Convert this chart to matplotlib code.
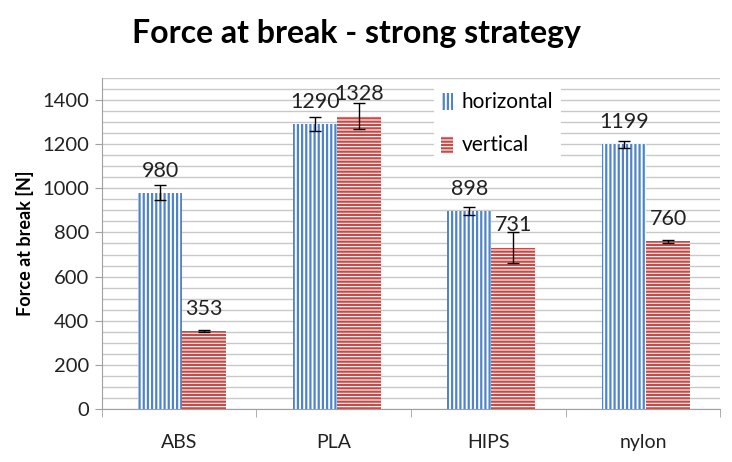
import matplotlib.pyplot as plt
from matplotlib.ticker import MultipleLocator, FixedLocator
import numpy as np

plt.rcParams['font.family'] = ['Lato', 'DejaVu Sans']
plt.rcParams['hatch.linewidth'] = 1.6

materials = ["ABS", "PLA", "HIPS", "nylon"]
horizontal = [980, 1290, 898, 1199]
vertical = [353, 1328, 731, 760]
horizontal_err = [34, 32, 18, 16]
vertical_err = [5, 59, 70, 8]

blue = "#4F84CC"
red = "#C44B48"
grid_col = "#C8C8C8"

fig = plt.figure(figsize=(7.32, 4.62), dpi=100)
ax = fig.add_axes([0.139, 0.115, 0.845, 0.716])

x = np.arange(len(materials))
w = 0.285

b1 = ax.bar(x - w / 2 + 0.02, horizontal, width=w, color="white", edgecolor=blue,
            linewidth=0, hatch="||||", label="horizontal", zorder=2,
            yerr=horizontal_err, capsize=4,
            error_kw=dict(ecolor="black", elinewidth=1, capthick=1, zorder=4))
b2 = ax.bar(x + w / 2 + 0.02, vertical, width=w, color="white", edgecolor=red,
            linewidth=0, hatch="-----", label="vertical", zorder=2,
            yerr=vertical_err, capsize=4,
            error_kw=dict(ecolor="black", elinewidth=1, capthick=1, zorder=4))

# data labels above bars
for bars, vals in ((b1, horizontal), (b2, vertical)):
    for rect, v in zip(bars, vals):
        ax.annotate(str(v), (rect.get_x() + rect.get_width() / 2, v),
                    xytext=(0, 16), textcoords="offset points",
                    ha="center", va="center", fontsize=15.5, color="#222222",
                    zorder=5)

ax.set_xlim(-0.5, 3.5)
ax.set_ylim(0, 1500)

ax.yaxis.set_major_locator(FixedLocator(np.arange(0, 1401, 200)))
ax.yaxis.set_minor_locator(MultipleLocator(50))
ax.grid(True, which="both", axis="y", color=grid_col, linewidth=1, zorder=0)
ax.set_axisbelow(True)

ax.set_xticks(x)
ax.set_xticklabels(materials)
ax.xaxis.set_minor_locator(FixedLocator(np.arange(-0.5, 3.6, 1)))
ax.tick_params(axis="x", which="major", length=0, pad=18, labelsize=14,
               labelcolor="#222222")
ax.tick_params(axis="x", which="minor", length=6, color="#A0A0A0")
ax.tick_params(axis="y", which="major", length=5, color="#A0A0A0",
               labelsize=14.5, labelcolor="#222222", pad=4)
ax.tick_params(axis="y", which="minor", length=0)

for side in ("top", "right"):
    ax.spines[side].set_visible(False)
for side in ("left", "bottom"):
    ax.spines[side].set_color("#A0A0A0")

ax.set_ylabel("Force at break [N]", fontsize=13, fontweight="bold", labelpad=6)

leg = ax.legend(loc="upper left", bbox_to_anchor=(0.52, 1.01), fontsize=15,
                handlelength=0.55, handleheight=0.9, handletextpad=0.45,
                labelspacing=1.1, frameon=True, fancybox=False,
                borderpad=0.35)
leg.get_frame().set_edgecolor("none")
leg.get_frame().set_facecolor("white")
leg.get_frame().set_alpha(1)

fig.text(0.487, 0.928, "Force at break - strong strategy", ha="center", va="center",
         fontsize=23, fontweight="bold")

fig.savefig("out.png", dpi=100)
